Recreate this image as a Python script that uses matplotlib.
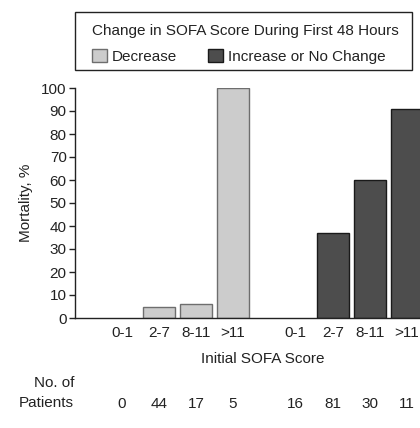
import matplotlib
matplotlib.use("Agg")
import matplotlib.pyplot as plt
from matplotlib.patches import Patch, Rectangle
import matplotlib.transforms as mtransforms

plt.rcParams['font.family'] = ['Liberation Sans', 'DejaVu Sans']

scores = ['0-1', '2-7', '8-11', '>11']
decrease = [0, 5, 6, 100]
increase = [0, 37, 60, 91]
n_decrease = [0, 44, 17, 5]
n_increase = [16, 81, 30, 11]

light = '#cccccc'
dark = '#4d4d4d'
txt = '#222222'
fs = 11

x1 = [0, 1, 2, 3]
x2 = [4.7, 5.7, 6.7, 7.7]

fig = plt.figure(figsize=(4.2, 4.28), dpi=100)
ax = fig.add_axes([75/420, 110/428, 354/420, 230/428])

b1 = ax.bar(x1, decrease, width=0.88, color=light, edgecolor='#6e6e6e', linewidth=1)
b2 = ax.bar(x2, increase, width=0.88, color=dark, edgecolor='#1a1a1a', linewidth=1)
for p in list(b1) + list(b2):
    if p.get_height() == 0:
        p.set_linewidth(0)

ax.set_xlim(-1.27, 8.3)
ax.set_ylim(0, 100)
ax.set_yticks(range(0, 101, 10))
ax.set_xticks(x1 + x2)
ax.set_xticklabels(scores + scores)
ax.tick_params(axis='x', length=0, pad=6, labelsize=fs, colors=txt)
ax.tick_params(axis='y', length=4, width=1, labelsize=fs, colors=txt, pad=2)
for s in ['top', 'right']:
    ax.spines[s].set_visible(False)
for s in ['left', 'bottom']:
    ax.spines[s].set_color('#222222')
    ax.spines[s].set_linewidth(1)

ax.set_ylabel('Mortality, %', fontsize=fs, color=txt, labelpad=6)

trans = mtransforms.blended_transform_factory(ax.transData, ax.transAxes)
ax.text(3.81, -0.18, 'Initial SOFA Score', transform=trans, ha='center', va='center',
        fontsize=fs, color=txt)
for xi, n in zip(x1 + x2, n_decrease + n_increase):
    ax.text(xi, -0.372, str(n), transform=trans, ha='center', va='center',
            fontsize=fs, color=txt)

fig.text(74/420, 1 - 383/428, 'No. of', ha='right', va='center', fontsize=fs, color=txt)
fig.text(74/420, 1 - 403/428, 'Patients', ha='right', va='center', fontsize=fs, color=txt)

# legend box drawn separately
fig.patches.append(Rectangle((75/420, 1 - 70/428), 337/420, 58/428, transform=fig.transFigure,
                             facecolor='white', edgecolor='#222222', linewidth=1, zorder=0))

handles = [Patch(facecolor=light, edgecolor='#6e6e6e', label='Decrease'),
           Patch(facecolor=dark, edgecolor='#1a1a1a', label='Increase or No Change')]
leg = fig.legend(handles=handles, ncol=2, loc='upper left',
                 bbox_to_anchor=(92/420, 1 - 24/428), title='Change in SOFA Score During First 48 Hours',
                 fontsize=fs, title_fontsize=fs, frameon=False,
                 handlelength=1.0, handleheight=1.0, handletextpad=0.3, columnspacing=2.0,
                 borderpad=0, borderaxespad=0, labelspacing=0.7, alignment='left')
for t in leg.get_texts():
    t.set_color(txt)
leg.get_title().set_color(txt)

fig.savefig('out.png', dpi=100)
